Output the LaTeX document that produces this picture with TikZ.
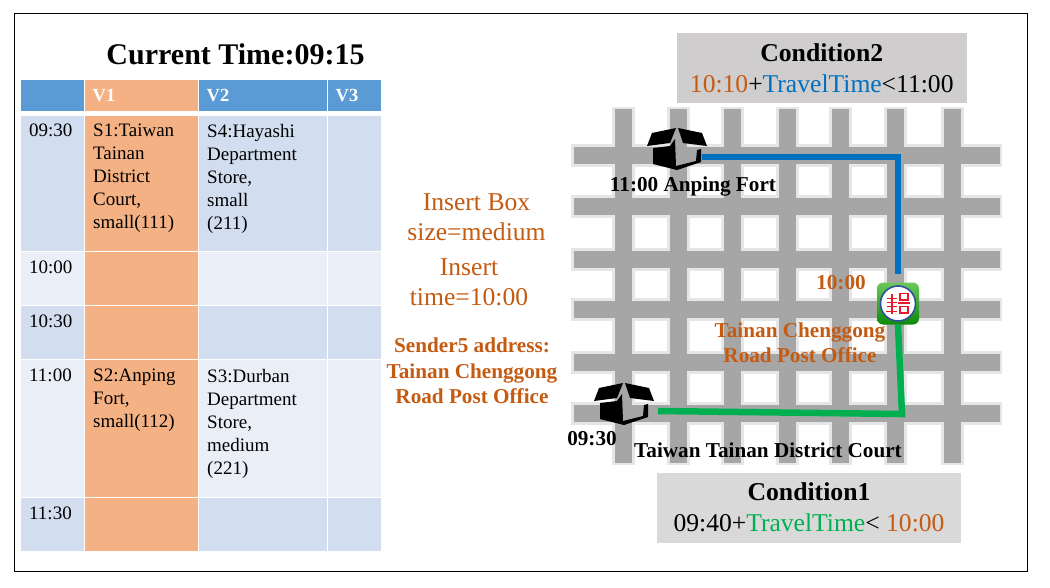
\documentclass[tikz,border=0pt]{standalone}
\usepackage{fontspec}
\setmainfont{Liberation Serif}
\usetikzlibrary{positioning}

\definecolor{headblue}{HTML}{5B9BD5}
\definecolor{vone}{HTML}{F4B183}
\definecolor{rowdark}{HTML}{D2DEEF}
\definecolor{rowlight}{HTML}{EAEFF7}
\definecolor{roadgray}{HTML}{A6A6A6}
\definecolor{roadedge}{HTML}{E6E6E6}
\definecolor{rust}{HTML}{C55A11}
\definecolor{routeblue}{HTML}{0070C0}
\definecolor{routegreen}{HTML}{00B050}
\definecolor{condtop}{HTML}{CFCDCD}
\definecolor{condlow}{HTML}{D9D9D9}
\definecolor{postred}{HTML}{E8192C}
\definecolor{postblue}{HTML}{2F4F9F}
\definecolor{posttop}{HTML}{6CC75A}
\definecolor{postlow}{HTML}{0B8A0B}
\newcommand{\condhead}[1]{{\fontsize{25.7}{31}\bfseries\selectfont #1}}

\begin{document}
\begin{tikzpicture}[
    x=1pt, y=-1pt,
    cell/.style={draw=white, line width=0.8pt},
    celltxt/.style={anchor=north west, inner sep=0pt, align=left, font=\fontsize{19}{23}\selectfont},
    headtxt/.style={anchor=west, inner sep=0pt, text=white, font=\fontsize{18.5}{22}\bfseries\selectfont},
    tag/.style={inner sep=0pt, align=center, font=\fontsize{21.2}{25.5}\bfseries\selectfont},
    note/.style={inner sep=0pt, align=center, text=rust, font=\fontsize{25.6}{30}\selectfont},
    condbox/.style={inner sep=0pt, minimum height=70pt, align=center, font=\fontsize{25.6}{31}\selectfont},
    route/.style={line width=6.5pt, line join=miter},
    parcel/.pic={
        \fill[black] (-25,-16) -- (-1,-21) -- (-7,-6) -- (-30,-3) -- cycle;
        \fill[black] (1,-21) -- (25,-16) -- (30,-3) -- (6,-6) -- cycle;
        \fill[black] (-24,-1) -- (-7,-3) -- (-2,-10) -- (-1,17) -- (19,12) -- (20,1) -- (24,0) -- (24,13) -- (0,21) -- (-24,15) -- cycle;
    }
]
    \useasboundingbox (0,0) rectangle (1050,587);
    \draw[black, line width=1pt] (14,13.5) rectangle (1027,571);

    % schedule table
    \node[inner sep=0pt, font=\fontsize{30}{34}\bfseries\selectfont] (clock) at (235.5,54.5) {Current Time:09:15};
    \foreach \xa/\xb/\tint in {20.5/84.5/headblue, 84.5/198.5/vone, 198.5/327/headblue, 327/381/headblue}
        \fill[\tint, cell] (\xa,79.5) rectangle (\xb,111.5);
    \foreach \ya/\yb/\tint in {115/251/rowdark, 251/305/rowlight, 305/359/rowdark, 359/497/rowlight, 497/551/rowdark} {
        \fill[\tint, cell] (20.5,\ya) rectangle (84.5,\yb);
        \fill[vone, cell] (84.5,\ya) rectangle (198.5,\yb);
        \fill[\tint, cell] (198.5,\ya) rectangle (327,\yb);
        \fill[\tint, cell] (327,\ya) rectangle (381,\yb);
    }
    \node[headtxt] (vonehead) at (92.5,96) {V1};
    \node[headtxt] (vtwohead) at (206.5,96) {V2};
    \node[headtxt] (vthreehead) at (335.5,96) {V3};
    \node[celltxt] (tnine) at (29,124) {09:30};
    \node[celltxt] (tten) at (29,261) {10:00};
    \node[celltxt] (ttenhalf) at (29,315) {10:30};
    \node[celltxt] (televen) at (29,369) {11:00};
    \node[celltxt] (televenhalf) at (29,507) {11:30};
    \node[celltxt] (sone) at (93,124) {S1:Taiwan\\Tainan\\District\\Court,\\small(111)};
    \node[celltxt] (sfour) at (207,124) {S4:Hayashi\\Department\\Store,\\small\\(211)};
    \node[celltxt] (stwo) at (93,369) {S2:Anping\\Fort,\\small(112)};
    \node[celltxt] (sthree) at (207,369) {S3:Durban\\Department\\Store,\\medium\\(221)};

    % insert request
    \node[note] (insertbox) at (476.5,217) {Insert Box\\size=medium};
    \node[note] (inserttime) at (469,282) {Insert\\time=10:00};
    \node[tag, text=rust] (sender) at (472,371) {Sender5 address:\\Tainan Chenggong\\Road Post Office};

    % street grid
    \foreach \xr in {623,678,732,787,840,895,952}
        \draw[roadedge, line width=23pt] (\xr,107) -- (\xr,465);
    \foreach \yr in {155,206,259,309,362,413}
        \draw[roadedge, line width=23pt] (571,\yr) -- (1002,\yr);
    \foreach \xr in {623,678,732,787,840,895,952}
        \draw[roadgray, line width=17pt] (\xr,109) -- (\xr,463);
    \foreach \yr in {155,206,259,309,362,413}
        \draw[roadgray, line width=17pt] (574,\yr) -- (1000,\yr);

    % post office
    \node[rounded corners=6pt, minimum size=42pt, inner sep=0pt, top color=posttop, bottom color=postlow] (post) at (898,303.5) {};
    \node[circle, draw=postblue, fill=white, line width=1.6pt, minimum size=35pt, inner sep=0pt] (postseal) at (post) {};
    \begin{scope}[shift={(post.center)}, draw=postred, line width=1.9pt]
        \draw (-11,-5) -- (-1,-5) (-11,-1) -- (-1,-1) (-11,3) -- (-1,3) (-12,8) -- (-1,8) (-6,-10) -- (-6,10);
        \draw (2,-10) rectangle (10,-3.5) (0,-0.5) -- (11.5,-0.5) (2,3) rectangle (10,9.5);
    \end{scope}

    % parcels and routes
    \pic at (677,149) {parcel};
    \pic at (624,404) {parcel};
    \coordinate (fortout) at (702,157);
    \coordinate (courtout) at (658,411);
    \coordinate (turn) at (902,414);
    \draw[route, routeblue, shorten >=8pt] (fortout) -| (post.north);
    \draw[route, routegreen] (courtout) -- (turn) -- (post.south);

    % map labels
    \node[tag] (fortlabel) at (693,186) {11:00 Anping Fort};
    \node[tag, text=rust] (posttime) at (841,283) {10:00};
    \node[tag, text=rust] (postlabel) at (800,342.5) {Tainan Chenggong\\Road Post Office};
    \node[tag] (courttime) at (592,439) {09:30};
    \node[tag] (courtlabel) at (768,450) {Taiwan Tainan District Court};

    % conditions
    \node[condbox, fill=condtop, minimum width=290.5pt] (condtwo) at (821.75,68) {\condhead{Condition2}\\\textcolor{rust}{10:10}+\textcolor{routeblue}{TravelTime}<11:00};
    \node[condbox, fill=condlow, minimum width=304pt] (condone) at (809,507.5) {\condhead{Condition1}\\09:40+\textcolor{routegreen}{TravelTime}< \textcolor{rust}{10:00}};
\end{tikzpicture}
\end{document}
